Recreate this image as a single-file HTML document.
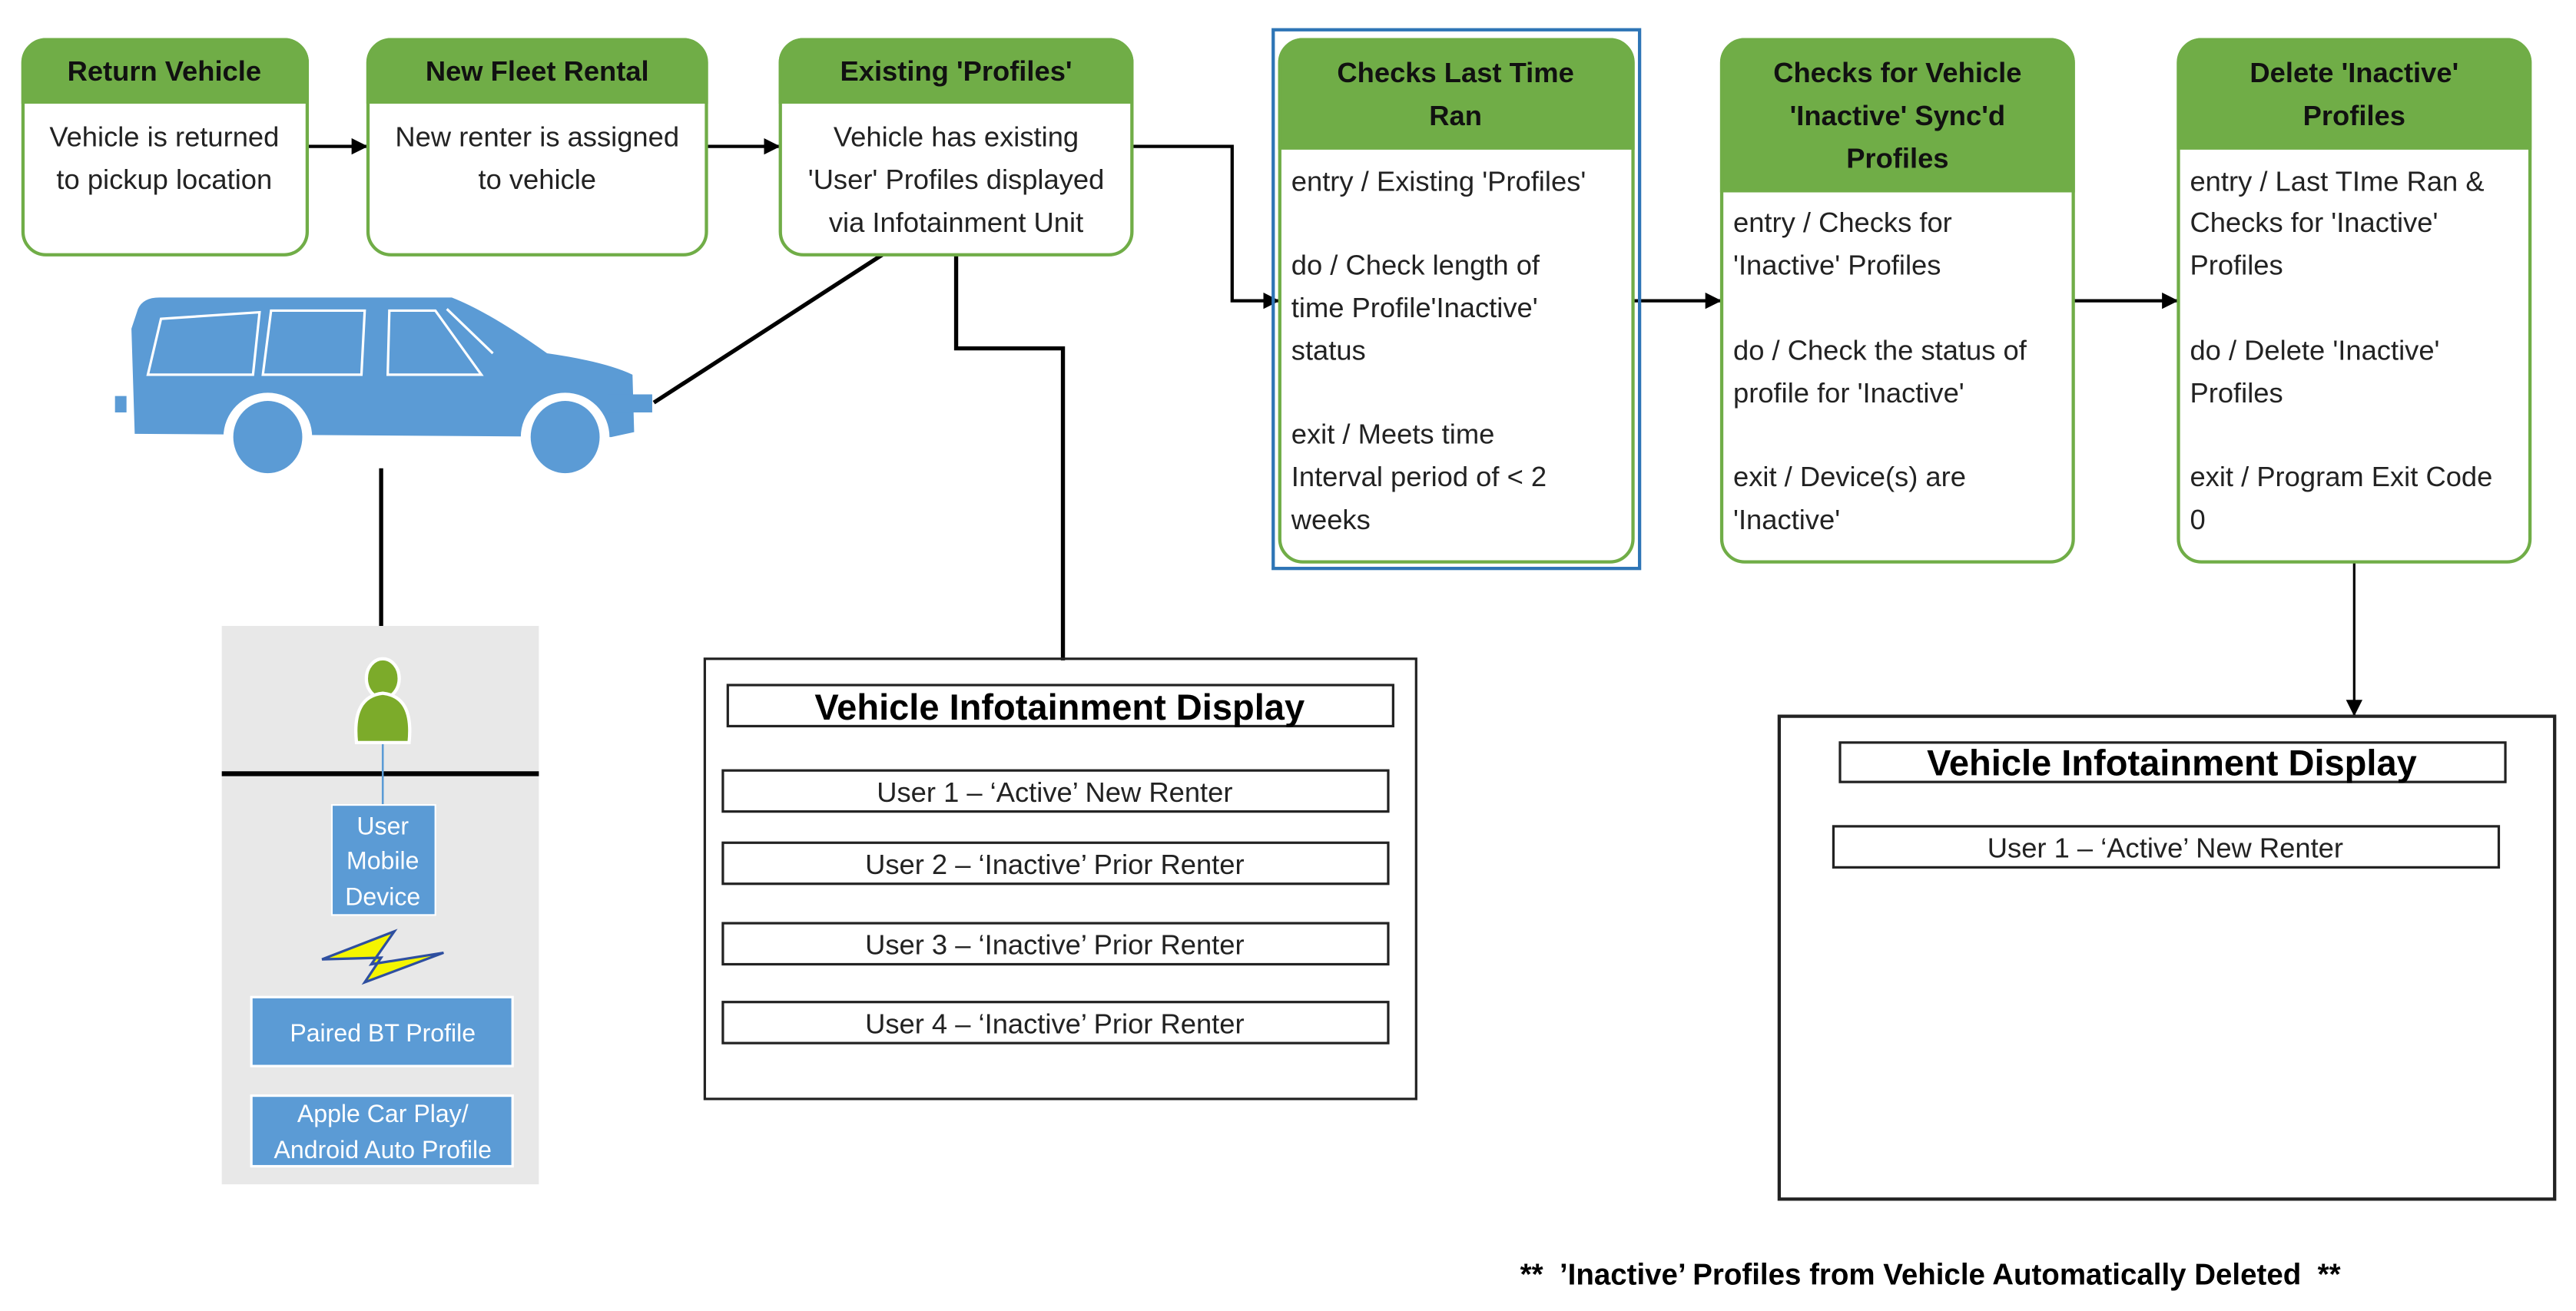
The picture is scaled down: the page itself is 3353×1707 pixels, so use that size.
<!DOCTYPE html>
<html><head><meta charset="utf-8"><style>
html,body{margin:0;padding:0;background:#fff}
svg{display:block}
text{font-family:"Liberation Sans",sans-serif}
</style></head><body>
<svg width="3353" height="1707" viewBox="0 0 1568 798" xmlns="http://www.w3.org/2000/svg">
<defs>
<marker id="ar" markerWidth="10" markerHeight="10" refX="9" refY="5" orient="auto" markerUnits="userSpaceOnUse">
<path d="M0,0 L10,5 L0,10 z" fill="#000"/></marker>
</defs>
<rect width="1568" height="798" fill="#fff"/>

<g stroke="#000" stroke-width="2" fill="none">
<line x1="187" y1="89" x2="223" y2="89" marker-end="url(#ar)"/>
<line x1="430" y1="89" x2="474" y2="89" marker-end="url(#ar)"/>
<polyline points="689,89 750,89 750,183 778,183" marker-end="url(#ar)"/>
<line x1="994" y1="183" x2="1047" y2="183" marker-end="url(#ar)"/>
<line x1="1262" y1="183" x2="1325" y2="183" marker-end="url(#ar)"/>
<line x1="1433" y1="342" x2="1433" y2="435" stroke-width="1.5" marker-end="url(#ar)"/>
<line x1="398" y1="245" x2="537" y2="155" stroke-width="2.5"/>
<polyline points="582,155 582,212 647,212 647,402" stroke-width="2.5"/>
<line x1="232" y1="285" x2="232" y2="381" stroke-width="2.5"/>
</g>

<g stroke="#70ad47" stroke-width="2">
<rect x="14" y="24" width="173" height="131" rx="14" fill="#fff"/>
<path d="M14,62 V38 a14,14 0 0 1 14,-14 H173 a14,14 0 0 1 14,14 V62 z" fill="#70ad47"/>
<rect x="224" y="24" width="206" height="131" rx="14" fill="#fff"/>
<path d="M224,62 V38 a14,14 0 0 1 14,-14 H416 a14,14 0 0 1 14,14 V62 z" fill="#70ad47"/>
<rect x="475" y="24" width="214" height="131" rx="14" fill="#fff"/>
<path d="M475,62 V38 a14,14 0 0 1 14,-14 H675 a14,14 0 0 1 14,14 V62 z" fill="#70ad47"/>
<rect x="779" y="24" width="215" height="318" rx="14" fill="#fff"/>
<path d="M779,90 V38 a14,14 0 0 1 14,-14 H980 a14,14 0 0 1 14,14 V90 z" fill="#70ad47"/>
<rect x="1048" y="24" width="214" height="318" rx="14" fill="#fff"/>
<path d="M1048,116 V38 a14,14 0 0 1 14,-14 H1248 a14,14 0 0 1 14,14 V116 z" fill="#70ad47"/>
<rect x="1326" y="24" width="214" height="318" rx="14" fill="#fff"/>
<path d="M1326,90 V38 a14,14 0 0 1 14,-14 H1526 a14,14 0 0 1 14,14 V90 z" fill="#70ad47"/>
</g>
<rect x="775" y="18" width="223" height="328" fill="none" stroke="#2e75b6" stroke-width="2"/>

<g font-size="17" font-weight="bold" text-anchor="middle" fill="#111">
<text x="100" y="49">Return Vehicle</text>
<text x="327" y="49">New Fleet Rental</text>
<text x="582" y="49">Existing 'Profiles'</text>
<text x="886" y="50">Checks Last Time</text><text x="886" y="76">Ran</text>
<text x="1155" y="50">Checks for Vehicle</text><text x="1155" y="76">'Inactive' Sync'd</text><text x="1155" y="102">Profiles</text>
<text x="1433" y="50">Delete 'Inactive'</text><text x="1433" y="76">Profiles</text>
</g>
<g font-size="17" text-anchor="middle" fill="#222">
<text x="100" y="89">Vehicle is returned</text><text x="100" y="115">to pickup location</text>
<text x="327" y="89">New renter is assigned</text><text x="327" y="115">to vehicle</text>
<text x="582" y="89">Vehicle has existing</text><text x="582" y="115">'User' Profiles displayed</text><text x="582" y="141">via Infotainment Unit</text>
</g>
<g font-size="17" fill="#222">
<text x="786" y="116">entry / Existing 'Profiles'</text>
<text x="786" y="167">do / Check length of</text><text x="786" y="193">time Profile'Inactive'</text><text x="786" y="219">status</text>
<text x="786" y="270">exit / Meets time</text><text x="786" y="296">Interval period of &lt; 2</text><text x="786" y="322">weeks</text>
<text x="1055" y="141">entry / Checks for</text><text x="1055" y="167">'Inactive' Profiles</text>
<text x="1055" y="219">do / Check the status of</text><text x="1055" y="245">profile for 'Inactive'</text>
<text x="1055" y="296">exit / Device(s) are</text><text x="1055" y="322">'Inactive'</text>
<text x="1333" y="116">entry / Last TIme Ran &amp;</text><text x="1333" y="141">Checks for 'Inactive'</text><text x="1333" y="167">Profiles</text>
<text x="1333" y="219">do / Delete 'Inactive'</text><text x="1333" y="245">Profiles</text>
<text x="1333" y="296">exit / Program Exit Code</text><text x="1333" y="322">0</text>
</g>

<!-- car -->
<g fill="#5b9bd5">
<path d="M84,188 Q87,181 97,181 L275,181 Q298,190 333,215 Q368,220 385,228 L386,263 L372,266 L82,264 L80,200 Z"/>
<rect x="70" y="241" width="7" height="10"/>
<rect x="370" y="240" width="27" height="11"/>
<circle cx="163" cy="266" r="27" fill="#fff"/>
<circle cx="344" cy="266" r="27" fill="#fff"/>
<ellipse cx="163" cy="266" rx="21" ry="22"/>
<ellipse cx="344" cy="266" rx="21" ry="22"/>
</g>
<g fill="none" stroke="#fff" stroke-width="1.5">
<path d="M98,194 L158,190 L154,228 L90,228 Z"/>
<path d="M165,189 L222,189 L220,228 L160,228 Z"/>
<path d="M237,189 L265,189 L293,228 L236,228 Z"/>
<path d="M272,188 L300,215"/>
</g>

<rect x="135" y="381" width="193" height="340" fill="#e8e8e8"/>
<line x1="135" y1="471" x2="328" y2="471" stroke="#000" stroke-width="3"/>
<line x1="233" y1="450" x2="233" y2="490" stroke="#5b9bd5" stroke-width="1.2"/>
<ellipse cx="233" cy="413" rx="10" ry="12" fill="#7cab2a" stroke="#fff" stroke-width="2"/>
<path d="M217,452 Q214,424 233,422 Q252,424 249,452 Z" fill="#7cab2a" stroke="#fff" stroke-width="2"/>
<rect x="202" y="490" width="63" height="67" fill="#5b9bd5" stroke="#fff"/>
<rect x="153" y="607" width="159" height="42" fill="#5b9bd5" stroke="#fff" stroke-width="1.5"/>
<rect x="153" y="667" width="159" height="43" fill="#5b9bd5" stroke="#fff" stroke-width="1.5"/>
<g font-size="15" fill="#fff" text-anchor="middle">
<text x="233" y="508">User</text><text x="233" y="529">Mobile</text><text x="233" y="551">Device</text>
<text x="233" y="634">Paired BT Profile</text>
<text x="233" y="683">Apple Car Play/</text><text x="233" y="705">Android Auto Profile</text>
</g>
<path d="M196,584 L240,567 L226,587 L270,580 L222,598 L232,583 Z" fill="#f5f500" stroke="#2e4fa0" stroke-width="1.5"/>

<g fill="none" stroke="#222" stroke-width="1.5">
<rect x="429" y="401" width="433" height="268"/>
<rect x="443" y="417" width="405" height="25"/>
<rect x="440" y="469" width="405" height="25"/>
<rect x="440" y="513" width="405" height="25"/>
<rect x="440" y="562" width="405" height="25"/>
<rect x="440" y="610" width="405" height="25"/>
<rect x="1083" y="436" width="472" height="294" stroke-width="2"/>
<rect x="1120" y="452" width="405" height="24"/>
<rect x="1116" y="503" width="405" height="25"/>
</g>
<g font-size="22" font-weight="bold" text-anchor="middle" fill="#000">
<text x="645" y="438">Vehicle Infotainment Display</text>
<text x="1322" y="472">Vehicle Infotainment Display</text>
</g>
<g font-size="17" text-anchor="middle" fill="#222">
<text x="642" y="488">User 1 – ‘Active’ New Renter</text>
<text x="642" y="532">User 2 – ‘Inactive’ Prior Renter</text>
<text x="642" y="581">User 3 – ‘Inactive’ Prior Renter</text>
<text x="642" y="629">User 4 – ‘Inactive’ Prior Renter</text>
<text x="1318" y="522">User 1 – ‘Active’ New Renter</text>
</g>
<text x="1175" y="782" font-size="18" font-weight="bold" text-anchor="middle" fill="#000" xml:space="preserve">**  ’Inactive’ Profiles from Vehicle Automatically Deleted  **</text>
</svg>
</body></html>
